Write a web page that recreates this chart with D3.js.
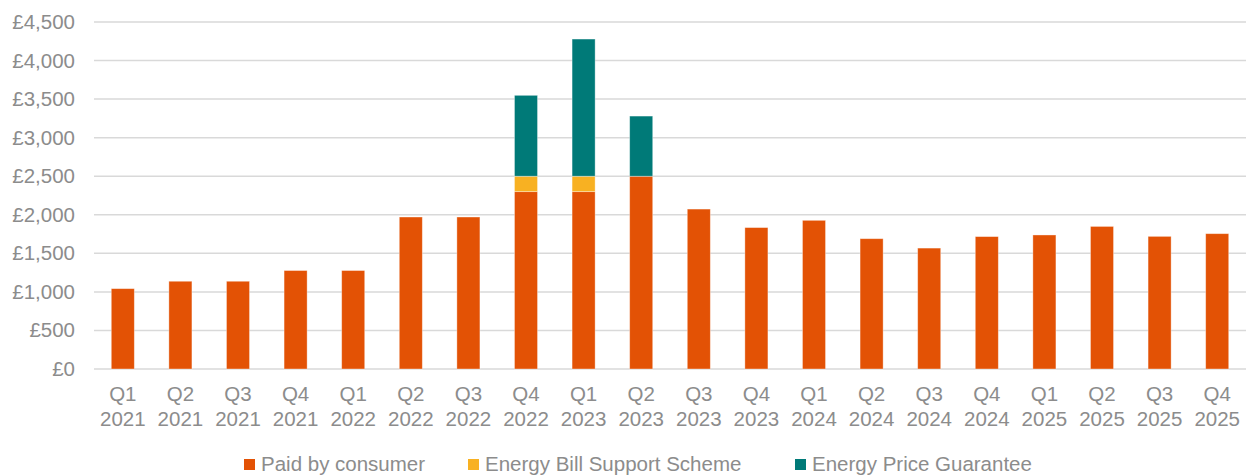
<!DOCTYPE html>
<html>
<head>
<meta charset="utf-8">
<script src="https://cdn.jsdelivr.net/npm/d3@7"></script>
<style>
  body { margin: 0; background: #fff; }
  text { font-family: "Liberation Sans", Arial, sans-serif; }
</style>
</head>
<body>
<div id="chart"></div>
<script>
    const width = 1252;
    const height = 475;
    const margin = {top: 22, right: 6, bottom: 106, left: 94};

    // data
    const quarters = ["Q1 2021","Q2 2021","Q3 2021","Q4 2021","Q1 2022","Q2 2022","Q3 2022","Q4 2022","Q1 2023","Q2 2023",
                      "Q3 2023","Q4 2023","Q1 2024","Q2 2024","Q3 2024","Q4 2024","Q1 2025","Q2 2025","Q3 2025","Q4 2025"];
    const paidByConsumer = [1042,1138,1138,1277,1277,1971,1971,2300,2300,2500,2074,1834,1928,1690,1568,1717,1738,1849,1720,1755];
    const billSupport    = [0,0,0,0,0,0,0,200,200,0,0,0,0,0,0,0,0,0,0,0];
    const priceGuarantee = [0,0,0,0,0,0,0,1049,1779,780,0,0,0,0,0,0,0,0,0,0];
    const seriesNames = ["Paid by consumer","Energy Bill Support Scheme","Energy Price Guarantee"];
    const seriesColors = ["#E35205","#F8B122","#007A78"];
    const yTicks = [0,500,1000,1500,2000,2500,3000,3500,4000,4500];

    const rows = quarters.map((q,i)=>({q:q, a:paidByConsumer[i], b:billSupport[i], c:priceGuarantee[i]}));
    const stack = d3.stack().keys(["a","b","c"])(rows);

    const fontSize = "20.5px";
    const textColor = "#8c8c8c";

    const svg = d3.select("#chart").append("svg")
      .attr("width",width)
      .attr("height",height)

    const x = d3.scaleBand()
      .domain(quarters)
      .range([margin.left, width-margin.right])
      .paddingInner(0.6)
      .paddingOuter(0.3)

    const y = d3.scaleLinear()
      .domain([0,4500])
      .range([height-margin.bottom, margin.top])

    // gridlines
    svg.append("g")
      .selectAll("line")
      .data(yTicks)
      .enter()
      .append("line")
      .attr("x1",margin.left)
      .attr("x2",width-margin.right)
      .attr("y1",d=>y(d))
      .attr("y2",d=>y(d))
      .attr("stroke","#d9d9d9")
      .attr("stroke-width",1.5)

    // y labels
    const fmt = d3.format(",")
    svg.append("g")
      .selectAll("text")
      .data(yTicks)
      .enter()
      .append("text")
      .attr("x",75)
      .attr("y",d=>y(d)+7)
      .attr("text-anchor","end")
      .style("font-size",fontSize)
      .style("fill",textColor)
      .text(d=>"£"+fmt(d))

    // bars
    svg.append("g")
      .selectAll("g")
      .data(stack)
      .enter()
      .append("g")
      .attr("fill",(d,i)=>seriesColors[i])
      .selectAll("rect")
      .data(d=>d.filter(s=>s[1]>s[0]))
      .enter()
      .append("rect")
      .attr("x",d=>x(d.data.q))
      .attr("width",x.bandwidth())
      .attr("y",d=>y(d[1]))
      .attr("height",d=>y(d[0])-y(d[1]))
      .attr("stroke","#ffffff")
      .attr("stroke-opacity",0.45)
      .attr("stroke-width",0.8)

    // x labels
    const xl = svg.append("g")
      .selectAll("text")
      .data(quarters)
      .enter()
      .append("text")
      .attr("text-anchor","middle")
      .style("font-size",fontSize)
      .style("fill",textColor)
      .attr("transform",d=>`translate(${x(d)+x.bandwidth()/2},0)`)
    xl.append("tspan").attr("x",0).attr("y",401).text(d=>d.split(" ")[0])
    xl.append("tspan").attr("x",0).attr("y",426).text(d=>d.split(" ")[1])

    // legend
    const legendX = [244,468,795];
    seriesNames.forEach((n,i)=>{
      svg.append("rect").attr("x",legendX[i]).attr("y",459).attr("width",11).attr("height",11).attr("fill",seriesColors[i])
      svg.append("text").text(n).attr("x",legendX[i]+17).attr("y",471)
        .style("font-size",fontSize).style("fill",textColor)
    })
</script>
</body>
</html>
